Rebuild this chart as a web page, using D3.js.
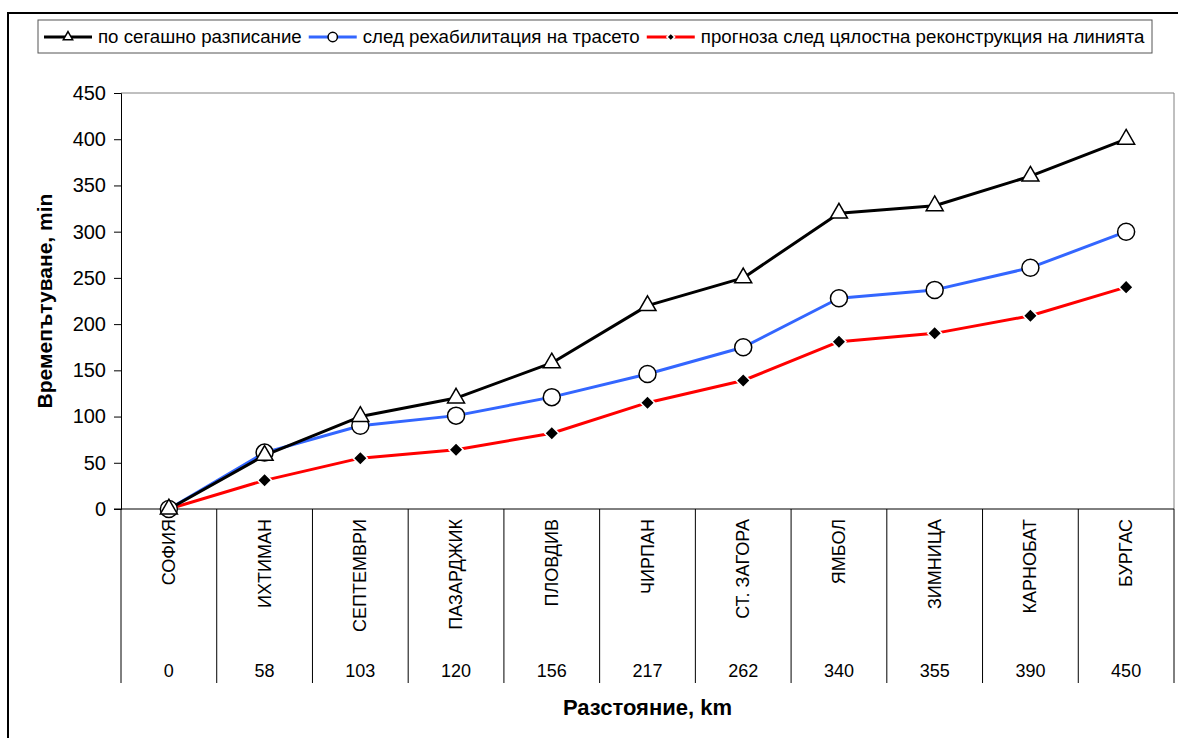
<!DOCTYPE html>
<html>
<head>
<meta charset="utf-8">
<script src="https://cdn.jsdelivr.net/npm/d3@7"></script>
<style>
  body { margin: 0; background: #fff; }
  svg { display: block; font-family: "Liberation Sans", Arial, sans-serif; }
</style>
</head>
<body>
<svg id="chart" width="1178" height="738"></svg>
<script>
// data
const stations = ["СОФИЯ", "ИХТИМАН", "СЕПТЕМВРИ", "ПАЗАРДЖИК", "ПЛОВДИВ", "ЧИРПАН",
  "СТ. ЗАГОРА", "ЯМБОЛ", "ЗИМНИЦА", "КАРНОБАТ", "БУРГАС"];
const distances = [0, 58, 103, 120, 156, 217, 262, 340, 355, 390, 450];
const currentTimes = [0, 58, 100, 120, 158, 220, 250, 320, 328, 360, 400];
const rehabTimes = [0, 61, 90, 101, 121, 146, 175, 228, 237, 261, 300];
const reconTimes = [0, 31, 55, 64, 82, 115, 139, 181, 190, 209, 240];
const seriesNames = [
  "по сегашно разписание",
  "след рехабилитация на трасето",
  "прогноза след цялостна реконструкция на линията"
];
const yTicks = [0, 50, 100, 150, 200, 250, 300, 350, 400, 450];

const PLOT = { left: 121, right: 1174, top: 93, bottom: 509 };
const TABLE_BOTTOM = 683;

const svg = d3.select("#chart");

// outer frame
svg.append("rect")
  .attr("x", 8).attr("y", 13)
  .attr("width", 1200).attr("height", 800)
  .attr("fill", "#fff").attr("stroke", "#000").attr("stroke-width", 2);

const x = d3.scaleBand().domain(stations).range([PLOT.left, PLOT.right]).padding(0);
const y = d3.scaleLinear().domain([0, 450]).range([PLOT.bottom, PLOT.top]);
const cx = d => x(d) + x.bandwidth() / 2;

// plot area border (top / right grey)
svg.append("path")
  .attr("d", `M${PLOT.left},${PLOT.top}H${PLOT.right}V${PLOT.bottom}`)
  .attr("fill", "none").attr("stroke", "#808080").attr("stroke-width", 1);

// y axis
const yAxis = svg.append("g")
  .attr("transform", `translate(${PLOT.left},0)`)
  .call(d3.axisLeft(y).tickValues(yTicks).tickSize(7).tickPadding(8));
yAxis.select(".domain").attr("stroke", "#000");
yAxis.selectAll(".tick line").attr("stroke", "#000");
yAxis.selectAll(".tick text")
  .attr("font-size", 20).attr("fill", "#000")
  .attr("font-family", "Liberation Sans, Arial, sans-serif");

// x axis line + category table
svg.append("line")
  .attr("x1", PLOT.left - 7).attr("x2", PLOT.right)
  .attr("y1", PLOT.bottom).attr("y2", PLOT.bottom)
  .attr("stroke", "#000");

const edges = stations.map(s => x(s)).concat([PLOT.right]);
svg.append("g").selectAll("line")
  .data(edges)
  .join("line")
  .attr("x1", d => d).attr("x2", d => d)
  .attr("y1", PLOT.bottom).attr("y2", TABLE_BOTTOM)
  .attr("stroke", "#000");

svg.append("g").selectAll("text")
  .data(stations)
  .join("text")
  .attr("transform", d => `translate(${cx(d) + 6},${PLOT.bottom + 10}) rotate(-90)`)
  .attr("text-anchor", "end")
  .attr("font-size", 18)
  .text(d => d);

svg.append("g").selectAll("text")
  .data(stations)
  .join("text")
  .attr("x", d => cx(d))
  .attr("y", 677)
  .attr("text-anchor", "middle")
  .attr("font-size", 18)
  .text((d, i) => distances[i]);

// axis titles
svg.append("text")
  .attr("transform", `translate(52,${(PLOT.top + PLOT.bottom) / 2}) rotate(-90)`)
  .attr("text-anchor", "middle")
  .attr("font-size", 21).attr("font-weight", "bold")
  .text("Времепътуване, min");

svg.append("text")
  .attr("x", (PLOT.left + PLOT.right) / 2).attr("y", 715)
  .attr("text-anchor", "middle")
  .attr("font-size", 22).attr("font-weight", "bold")
  .text("Разстояние, km");

// series
const series = [
  { name: seriesNames[0], values: currentTimes, color: "#000000", marker: "triangle" },
  { name: seriesNames[1], values: rehabTimes, color: "#3366FF", marker: "circle" },
  { name: seriesNames[2], values: reconTimes, color: "#FF0000", marker: "diamond" }
];

const line = d3.line().x((d, i) => cx(stations[i])).y(d => y(d));

function drawMarker(sel, type, scale) {
  if (type === "triangle") {
    sel.append("path")
      .attr("d", d3.symbol(d3.symbolTriangle, 125 * scale * scale)())
      .attr("fill", "#fff").attr("stroke", "#000").attr("stroke-width", 1.5);
  } else if (type === "circle") {
    sel.append("circle")
      .attr("r", 8.5 * scale)
      .attr("fill", "#fff").attr("stroke", "#000").attr("stroke-width", 1.5);
  } else {
    sel.append("path")
      .attr("d", d3.symbol(d3.symbolSquare, 100 * scale * scale)())
      .attr("transform", "rotate(45)")
      .attr("fill", "#000").attr("stroke", "#fff").attr("stroke-width", 1.5);
  }
}

// red drawn first, black last
series.slice().reverse().forEach(s => {
  svg.append("path")
    .datum(s.values)
    .attr("d", line)
    .attr("fill", "none")
    .attr("stroke", s.color)
    .attr("stroke-width", 3)
    .attr("stroke-linejoin", "round");
});

series.slice().reverse().forEach(s => {
  svg.append("g").selectAll("g")
    .data(s.values)
    .join("g")
    .attr("transform", (d, i) => `translate(${cx(stations[i])},${y(d)})`)
    .each(function () { drawMarker(d3.select(this), s.marker, 1); });
});

// legend
const legend = svg.append("g");
legend.append("rect")
  .attr("x", 38).attr("y", 20).attr("width", 1152 - 38).attr("height", 33)
  .attr("fill", "#fff").attr("stroke", "#555").attr("stroke-width", 1);

let lx = 44;
const ly = 37;
series.forEach(s => {
  legend.append("line")
    .attr("x1", lx).attr("x2", lx + 48)
    .attr("y1", ly).attr("y2", ly)
    .attr("stroke", s.color).attr("stroke-width", 3);
  const m = legend.append("g").attr("transform", `translate(${lx + 24},${ly})`);
  drawMarker(m, s.marker, 0.55);
  const t = legend.append("text")
    .attr("x", lx + 54).attr("y", ly + 6)
    .attr("font-size", 18.7)
    .text(s.name);
  lx += 54 + t.node().getComputedTextLength() + 7;
});
</script>
</body>
</html>
